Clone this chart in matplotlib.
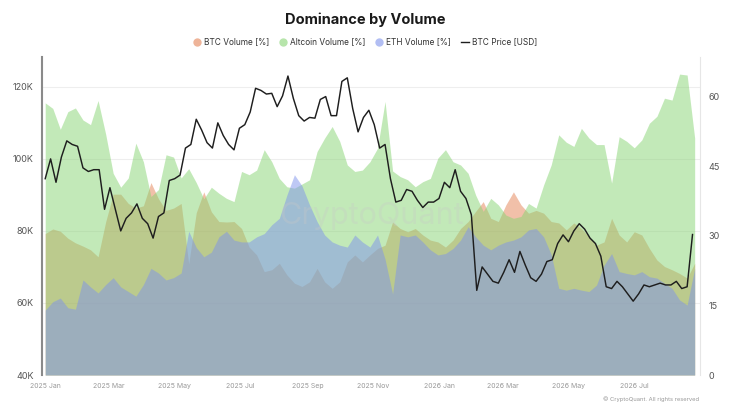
import pandas as pd
import matplotlib
matplotlib.use("Agg")
import matplotlib.pyplot as plt
import matplotlib.dates as mdates
from matplotlib.lines import Line2D
from matplotlib.ticker import FuncFormatter
from matplotlib.transforms import blended_transform_factory

plt.rcParams['font.family'] = ['Inter', 'DejaVu Sans']

# weekly volume dominance, percent
vol_dates = pd.date_range("2025-01-01", periods=87, freq="7D")
btc_vol = [30.5, 31.5, 31, 29.5, 28.5, 27.8, 27, 25.5, 33, 39, 39, 37, 36, 36.5, 41.5, 38, 35.5, 36, 37, 24, 35, 39.5,
           35.2, 33.1, 33, 33.1, 31.6, 27.6, 25.9, 22.3, 22.7, 24.1, 21.6, 19.8, 19.1, 20.1, 23.0, 20.1, 18.7, 20.1, 24.4, 25.9, 24.4, 25.9,
           27.3, 28, 33, 31.6, 30.9, 31.6, 30.2, 29.1, 28.7, 27.6, 29.1, 31.6, 33.1, 35.3, 37.4, 33.8, 33.1, 36.7, 39.5, 36.7, 34.9,
           35.5, 34.9, 33.1, 32.8, 31.3, 32.8, 31.6, 29.8, 28.0, 28.7, 33.8, 30.2, 28.7, 30.9, 30.2, 27.3, 24.8, 23.4, 22.7, 21.9, 20.9, 24.1]
alt_vol = [58.7, 57.5, 53.0, 56.8, 57.6, 55.0, 54.0, 59.2, 52.0, 43.5, 40.5, 42.5, 50.0, 46.0, 38.5, 40.0, 47.5, 47.0, 42.5, 44.5, 41.5, 38.0,
           40.5, 39.2, 38.1, 37.4, 43.9, 43.2, 44.2, 48.6, 46.0, 42.4, 40.6, 40.3, 41.2, 42.1, 48.2, 51.1, 53.6, 50.4, 45.3, 43.9, 44.2, 46.0,
           48.9, 59.0, 44.0, 42.8, 42.1, 40.6, 41.7, 42.4, 46.8, 48.6, 46.0, 45.3, 43.5, 38.8, 35.3, 38.1, 36.7, 34.5, 33.8, 34.2, 37.0,
           36.0, 41.0, 45.3, 51.8, 50.2, 49.3, 53.2, 51.1, 49.7, 49.7, 41.4, 51.4, 50.4, 49.0, 50.7, 54.3, 55.8, 59.7, 59.3, 64.9, 64.7, 51.1]
eth_vol = [14, 15.8, 16.6, 14.5, 14.2, 20.5, 19, 17.7, 19.5, 21, 19, 18, 17, 19.5, 23, 22, 20.5, 21, 22, 31, 27.5, 25.5,
           26.5, 29.8, 31, 29.1, 28.7, 28.7, 29.8, 30.5, 32.4, 33.8, 38.8, 43.2, 40.8, 36.7, 33.1, 30.2, 28.7, 28.0, 27.6, 30.2, 28.7, 27.6,
           30.2, 25, 17.5, 30.2, 29.8, 30.2, 28.7, 27.0, 25.9, 26.2, 27.3, 29.1, 32.0, 29.8, 28.0, 27.0, 28.0, 28.7, 29.1, 29.8, 31.3,
           31.6, 29.8, 26.0, 18.7, 18.3, 18.7, 18.3, 18.0, 19.4, 23.7, 26.2, 22.3, 21.9, 21.6, 22.3, 21.2, 20.9, 19.8, 18.7, 16.2, 15.1, 23.0]

# BTC price every 5 days, thousands of USD
price_dates = pd.date_range("2025-01-01", periods=121, freq="5D")
btc_price_k = [94.5, 100, 93.5, 100.5, 105, 104, 103.5, 97.5, 96.5, 97, 97, 86, 92, 86, 80, 83.5, 85, 87.5, 83.5, 82, 78,
               84, 85, 94, 94.5, 95.5, 103, 104, 111, 108, 104.5,
               103, 110, 106.5, 104, 102.5, 108.5, 109.5, 113, 119.6, 119, 118, 118.2, 114.5, 117.5, 123, 116.8, 112, 110.5,
               111.5, 111.3, 116.5, 117.3, 112, 112, 121.5, 122.5, 114, 107.5, 111.5,
               113.5, 109.5, 103, 104, 94.5, 88, 88.5, 91.5, 91, 88.5, 86.5, 88, 88, 89, 93.5, 92, 97, 91, 89, 84.5,
               63.5, 70, 68, 66, 65.5, 68.5, 72, 68.5, 74.3, 70.5,
               67, 66, 68, 71.5, 72, 76.5, 78.9, 77, 80, 82, 80.5, 78, 76.5, 73, 64.5, 64, 66, 64.5, 62.5, 60.5, 62.5,
               65, 64.5, 65, 65.5, 65, 65, 66, 64, 64.5, 79]
btc_price = [p * 1000 for p in btc_price_k]

price_ticks = [40000, 60000, 80000, 100000, 120000]
vol_ticks = [0, 15, 30, 45, 60]

c_btc = '#e48255'
c_alt = '#87d473'
c_eth = '#7f93ec'

fig = plt.figure(figsize=(7.3, 4.12), dpi=100)
ax = fig.add_axes([0.0575, 0.0898, 0.9015, 0.772])
axp = ax.twinx()

ax.fill_between(vol_dates, 0, btc_vol, color=c_btc, alpha=0.5, lw=0)
ax.fill_between(vol_dates, 0, alt_vol, color=c_alt, alpha=0.5, lw=0)
ax.fill_between(vol_dates, 0, eth_vol, color=c_eth, alpha=0.5, lw=0)
axp.plot(price_dates, btc_price, color='#1e1e1e', lw=1.05)

ax.set_ylim(0, 68.6)
axp.set_ylim(40000, 128300)
ax.set_xlim(pd.Timestamp("2025-01-01") - pd.Timedelta(days=3), pd.Timestamp("2025-01-01") + pd.Timedelta(days=607))

# faint grid at price levels, drawn under the fills
tr = blended_transform_factory(ax.transAxes, axp.transData)
for v in price_ticks[1:]:
    ax.plot([0, 1], [v, v], transform=tr, color='#eeeeee', lw=0.8, zorder=0)

ax.yaxis.tick_right()
axp.yaxis.tick_left()
ax.set_yticks(vol_ticks)
axp.set_yticks(price_ticks)
axp.yaxis.set_major_formatter(FuncFormatter(lambda v, p: f"{int(v/1000)}K"))

ax.xaxis.set_major_locator(mdates.MonthLocator(bymonth=[1, 3, 5, 7, 9, 11]))
ax.xaxis.set_major_formatter(mdates.DateFormatter("%Y %b"))

ax.tick_params(axis='y', length=0, labelsize=6.5, labelcolor='#555555', pad=6)
axp.tick_params(axis='y', length=0, labelsize=6.5, labelcolor='#555555', pad=6)
ax.tick_params(axis='x', length=0, labelsize=5, labelcolor='#999999', pad=6)

for a in (ax, axp):
    for s in ('top', 'bottom'):
        a.spines[s].set_visible(False)
ax.spines['left'].set_visible(False)
ax.spines['right'].set_color('#e6e6e6')
axp.spines['right'].set_visible(False)
axp.spines['left'].set_color('#8a8a8a')
axp.spines['left'].set_linewidth(1.5)

ax.text(0.5, 0.5, "CryptoQuant", transform=ax.transAxes, fontsize=22, color='#c8c8c8',
        alpha=0.3, ha='center', va='center', zorder=5)

fig.text(0.5, 1 - 20 / 412, "Dominance by Volume", ha='center', va='center',
         fontsize=10.5, fontweight='bold', color='#1a1a1a')

handles = [
    Line2D([], [], marker='o', ls='', markersize=6, markerfacecolor=c_btc, markeredgecolor='none', alpha=0.6),
    Line2D([], [], marker='o', ls='', markersize=6, markerfacecolor=c_alt, markeredgecolor='none', alpha=0.6),
    Line2D([], [], marker='o', ls='', markersize=6, markerfacecolor=c_eth, markeredgecolor='none', alpha=0.6),
    Line2D([], [], color='#1e1e1e', lw=1),
]
labels = ["BTC Volume [%]", "Altcoin Volume [%]", "ETH Volume [%]", "BTC Price [USD]"]
fig.legend(handles, labels, loc='center', bbox_to_anchor=(0.5, 1 - 42 / 412), ncol=4, frameon=False,
           fontsize=6, handlelength=1.0, handletextpad=0.3, columnspacing=1.2, labelcolor='#333333')

fig.text(0.958, 0.032, "© CryptoQuant. All rights reserved", ha='right', va='center',
         fontsize=4.2, color='#999999')

fig.savefig("out.png", dpi=100)
